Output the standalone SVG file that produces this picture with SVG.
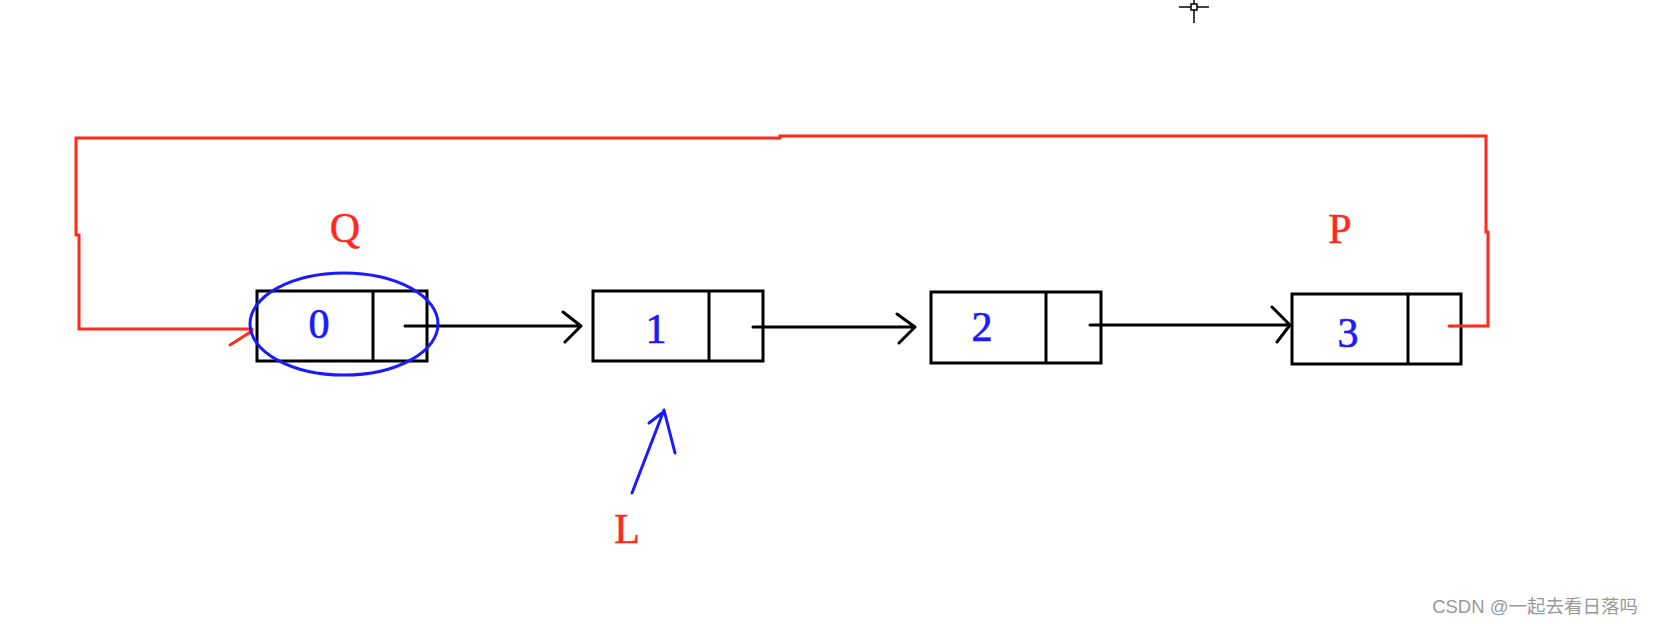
<svg xmlns="http://www.w3.org/2000/svg" width="1654" height="624" viewBox="0 0 1654 624">
<style>
.box{fill:#fff;stroke:#000;stroke-width:3}
.div{stroke:#000;stroke-width:3}
.val{font-family:"Liberation Serif",serif;font-size:42px;fill:#1a1aff;stroke:#1a1aff;stroke-width:0.7;text-anchor:middle}
.lbl{font-family:"Liberation Serif",serif;font-size:42px;fill:#ff2a1a;stroke:#ff2a1a;stroke-width:0.5;text-anchor:middle}
.blk{fill:none;stroke:#000;stroke-width:3;stroke-linecap:round;stroke-linejoin:round}
.red{fill:none;stroke:#ff2a1a;stroke-width:3;stroke-linecap:round;stroke-linejoin:miter}
.blue{fill:none;stroke:#1a1aff;stroke-width:3;stroke-linecap:round;stroke-linejoin:round}
</style>
<rect width="1654" height="624" fill="#fff"/>
<g id="node0">
<rect class="box" x="257" y="291" width="170" height="70"/>
<line class="div" x1="373" y1="291" x2="373" y2="361"/>
<text class="val" x="319" y="338">0</text>
</g>
<g id="node1">
<rect class="box" x="593" y="291" width="170" height="70"/>
<line class="div" x1="709" y1="291" x2="709" y2="361"/>
<text class="val" x="656" y="343">1</text>
</g>
<g id="node2">
<rect class="box" x="931" y="292" width="170" height="71"/>
<line class="div" x1="1046" y1="292" x2="1046" y2="363"/>
<text class="val" x="982" y="341">2</text>
</g>
<g id="node3">
<rect class="box" x="1292" y="294" width="169" height="70"/>
<line class="div" x1="1408" y1="294" x2="1408" y2="364"/>
<text class="val" x="1348" y="347">3</text>
</g>
<g id="labels">
<text class="lbl" x="345" y="242">Q</text>
<text class="lbl" x="1340" y="243">P</text>
<text class="lbl" x="627" y="543">L</text>
</g>
<g id="connectors">
<path class="blk" d="M405 326 L581 326 M563 312 L581 326 L565 342"/>
<path class="blk" d="M753 327 L915 327 M897 314 L915 327 L899 343"/>
<path class="blk" d="M1090 325 L1290 325 M1272 307 L1290 325 L1277 342"/>
<path class="red" d="M1449 326 L1488 326 L1488 232 L1486 232 L1486 136 L780 136 L780 138 L76 138 L76 235 L79 235 L79 329 L252 329"/>
<path class="red" d="M230 345 L252 331"/>
<ellipse class="blue" cx="344" cy="324" rx="94" ry="51"/>
<path class="blue" d="M632 493 L664 410 L675 453 M649 423 L662 413"/>
</g>
<g id="cursor" stroke="#000" stroke-width="1.5" fill="none">
<line x1="1179" y1="7" x2="1209" y2="7"/>
<line x1="1194" y1="0" x2="1194" y2="23"/>
<rect x="1191" y="4" width="6" height="6" fill="#fff"/>
</g>
<text x="1638" y="613" text-anchor="end" font-family="'Liberation Sans','Noto Sans CJK SC',sans-serif" font-size="18.5" fill="#999">CSDN @一起去看日落吗</text>
</svg>
